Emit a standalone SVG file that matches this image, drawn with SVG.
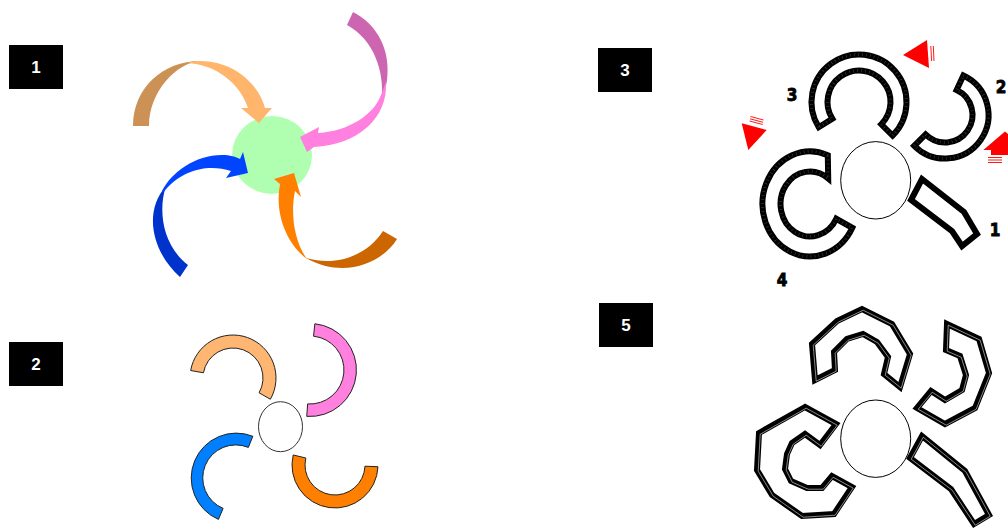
<svg xmlns="http://www.w3.org/2000/svg" width="1008" height="531" viewBox="0 0 1008 531">
<style>
.lbox{fill:#000}
.ltxt{fill:#fff;font-family:"Liberation Sans",Arial,sans-serif;font-weight:bold;font-size:17px;text-anchor:middle}
.ring2{stroke:#222;stroke-width:1}
.ring3{fill:#fff;stroke:#000;stroke-width:6;stroke-linejoin:miter}
.tick{fill:none;stroke:#fff;stroke-width:3;stroke-dasharray:0.5 3.5;stroke-opacity:0.3}
.poly5{fill:#fff;stroke:#000;stroke-width:6;stroke-linejoin:miter}
.polyhi{fill:none;stroke:#fff;stroke-width:0.6;stroke-opacity:0.9}
.hub{fill:#fff;stroke:#000;stroke-width:1}
.num{font-family:"DejaVu Sans Condensed","DejaVu Sans",sans-serif;font-weight:bold;font-size:17px;text-anchor:middle;fill:#000;stroke:#000;stroke-width:0.8}
.red{fill:#f00}
.redl{stroke:#f00;stroke-width:0.9;fill:none}
</style>

<!-- panel labels -->
<g id="label1"><rect class="lbox" x="9" y="45" width="54" height="44"/><text class="ltxt" x="36" y="73">1</text></g>
<g id="label2"><rect class="lbox" x="9" y="342" width="54" height="44"/><text class="ltxt" x="36" y="370">2</text></g>
<g id="label3"><rect class="lbox" x="598" y="48" width="54" height="44"/><text class="ltxt" x="625" y="76">3</text></g>
<g id="label5"><rect class="lbox" x="599" y="303" width="54" height="44"/><text class="ltxt" x="626" y="331">5</text></g>

<!-- panel 1 -->
<g id="p1-hub"><ellipse cx="272" cy="155" rx="40" ry="39" fill="#b0ffb0"/></g>
<g id="connectors">
  <g id="arrow-tan">
    <path d="M133,126 C133,88 163,61 200,61 C176,63 149,92 149,126 Z" fill="#cc9255"/>
    <path d="M187,63 C191,61.7 195,61 200,61 C232,61 258,82 265,108 L272,108 L259,123 L241,108 L248,108 C240,83 215,64 187,63 Z" fill="#ffb56b"/>
  </g>
  <g id="arrow-pink">
    <path d="M353,12 C377,24 391,50 387,80 C386,88 384,94 382,100 C384,70 374,40 347,25 Z" fill="#cc66b0"/>
    <path d="M386,82 C388,118 358,145 314,147 L307,152 L300,137 L319,127 L318,133 C350,131 374,114 381,95 Z" fill="#ff80df"/>
  </g>
  <g id="arrow-blue">
    <path d="M180,277 C152,252 143,212 166,186 C158,210 162,245 188,265 Z" fill="#0033cc"/>
    <path d="M162,191 C172,172 195,155 222,155 C230,155 236,157 240,159 L243,152 L248,173 L226,178 L231,171 C210,164 182,168 163,193 Z" fill="#0044ff"/>
  </g>
  <g id="arrow-orange">
    <path d="M397,239 C383,262 345,280 306,258 C340,268 370,252 383,231 Z" fill="#cc6600"/>
    <path d="M307,259 C288,245 274,215 280,184 L274,179 L294,173 L301,197 L295,191 C290,215 295,243 307,259 Z" fill="#ff8000"/>
  </g>
</g>

<!-- panel 2 -->
<g id="p2-tan"><path class="ring2" fill="#ffb673" d="M190.65,370.53 A43,43 0 1,1 270.39,399.24 L259.09,392.82 A30,30 0 1,0 203.46,372.79 Z"/></g>
<g id="p2-pink"><path class="ring2" fill="#ff80df" d="M314.86,323.76 A46.5,46.5 0 0,1 306.76,416.39 L307.63,403.92 A34,34 0 0,0 313.55,336.19 Z"/></g>
<g id="p2-blue"><path class="ring2" fill="#0080ff" d="M252.86,436.28 A45,45 0 0,0 218.42,519.42 L223.11,508.38 A33,33 0 0,1 248.36,447.40 Z"/></g>
<g id="p2-orange"><path class="ring2" fill="#ff8000" d="M293.19,454.96 A43,43 0 1,0 377.97,466.73 L364.98,466.2 A30,30 0 1,1 305.83,458.0 Z"/></g>
<g id="p2-hub"><ellipse cx="280.5" cy="426.7" rx="22" ry="25" fill="#fff" stroke="#333" stroke-width="1"/></g>

<!-- panel 3 -->
<g id="p3-hub"><ellipse class="hub" cx="875.7" cy="180.3" rx="35" ry="38.7"/></g>
<g id="p3-seg3">
  <path class="ring3" d="M818.72,127.17 A47.5,47.5 0 1,1 892.59,135.59 L881.27,124.27 A31.5,31.5 0 1,0 832.29,118.69 Z"/>
  <path class="tick" d="M818.72,127.17 A47.5,47.5 0 1,1 892.59,135.59 L881.27,124.27 A31.5,31.5 0 1,0 832.29,118.69 Z"/>
</g>
<g id="p3-seg2">
  <path class="ring3" d="M963.38,75.58 A43.5,43.5 0 1,1 914.24,145.76 L925.55,134.45 A27.5,27.5 0 1,0 956.62,90.08 Z"/>
  <path class="tick" d="M963.38,75.58 A43.5,43.5 0 1,1 914.24,145.76 L925.55,134.45 A27.5,27.5 0 1,0 956.62,90.08 Z"/>
</g>
<g id="p3-seg4">
  <path class="ring3" d="M827.8,155.3 A47.5,52.5 0 1,0 852.3,227.8 L836.3,218.8 A29.5,32.5 0 1,1 828.2,178.4 Z"/>
  <path class="tick" d="M827.8,155.3 A47.5,52.5 0 1,0 852.3,227.8 L836.3,218.8 A29.5,32.5 0 1,1 828.2,178.4 Z"/>
</g>
<g id="p3-seg1">
  <path class="ring3" d="M922,179 L964,212 L977,234 L962,246 L952,231 L911,200 Z"/>
</g>
<g id="p3-numbers">
  <text class="num" x="792" y="101">3</text>
  <text class="num" x="1001" y="93">2</text>
  <text class="num" x="995" y="236">1</text>
  <text class="num" x="782" y="286">4</text>
</g>
<g id="p3-redarrows">
  <path class="red" d="M903,55 L927,40 L929,68 Z"/>
  <path class="redl" d="M930.8,46 L931.6,61 M933.3,46 L934,61"/>
  <path class="red" d="M741.7,123.3 L766.7,130 L748.3,150 Z"/>
  <path class="redl" d="M750.5,116.5 L763.5,120 M750,118.8 L763,122.3 M749.6,121 L762.6,124.5"/>
  <path class="red" d="M1005,131.5 L983.3,150 L1027,150 Z"/>
  <path class="red" d="M991,150 L1008,150 L1008,155 L991,155 Z"/>
  <path class="redl" d="M988,157.5 L1002,157.5 M988,160 L1002,160 M988,162.5 L1002,162.5"/>
</g>

<!-- panel 5 -->
<g id="p5-hub"><ellipse class="hub" cx="875.7" cy="438.7" rx="35" ry="38.7"/></g>
<g id="p5-top">
  <polygon class="poly5" points="815,380 812,344 837,321 862,309 892,324 910,354 900,387 884,374 888,357 877,342 863,334 847,339 834,352 835,370"/>
  <polygon class="polyhi" points="815,380 812,344 837,321 862,309 892,324 910,354 900,387 884,374 888,357 877,342 863,334 847,339 834,352 835,370" transform="translate(1.2,1.2)"/>
</g>
<g id="p5-right">
  <polygon class="poly5" points="947,324 979,339 989,373 975,408 945,424 917,408 931,391 945,400 962,390 966,375 960,356 946,350"/>
  <polygon class="polyhi" points="947,324 979,339 989,373 975,408 945,424 917,408 931,391 945,400 962,390 966,375 960,356 946,350" transform="translate(1.2,1.2)"/>
</g>
<g id="p5-left">
  <polygon class="poly5" points="805,407 759,433 757,470 772,495 802,516 834,514 852,487 832,476 822,488 807,488 791,481 785,469 787,454 792,443 805,434 820,445 836,424"/>
  <polygon class="polyhi" points="805,407 759,433 757,470 772,495 802,516 834,514 852,487 832,476 822,488 807,488 791,481 785,469 787,454 792,443 805,434 820,445 836,424" transform="translate(1.2,1.2)"/>
</g>
<g id="p5-arm">
  <polygon class="poly5" points="922,436 965,471 989,515 974,524 951,489 910,458"/>
  <polygon class="polyhi" points="922,436 965,471 989,515 974,524 951,489 910,458" transform="translate(1.2,1.2)"/>
</g>
</svg>
